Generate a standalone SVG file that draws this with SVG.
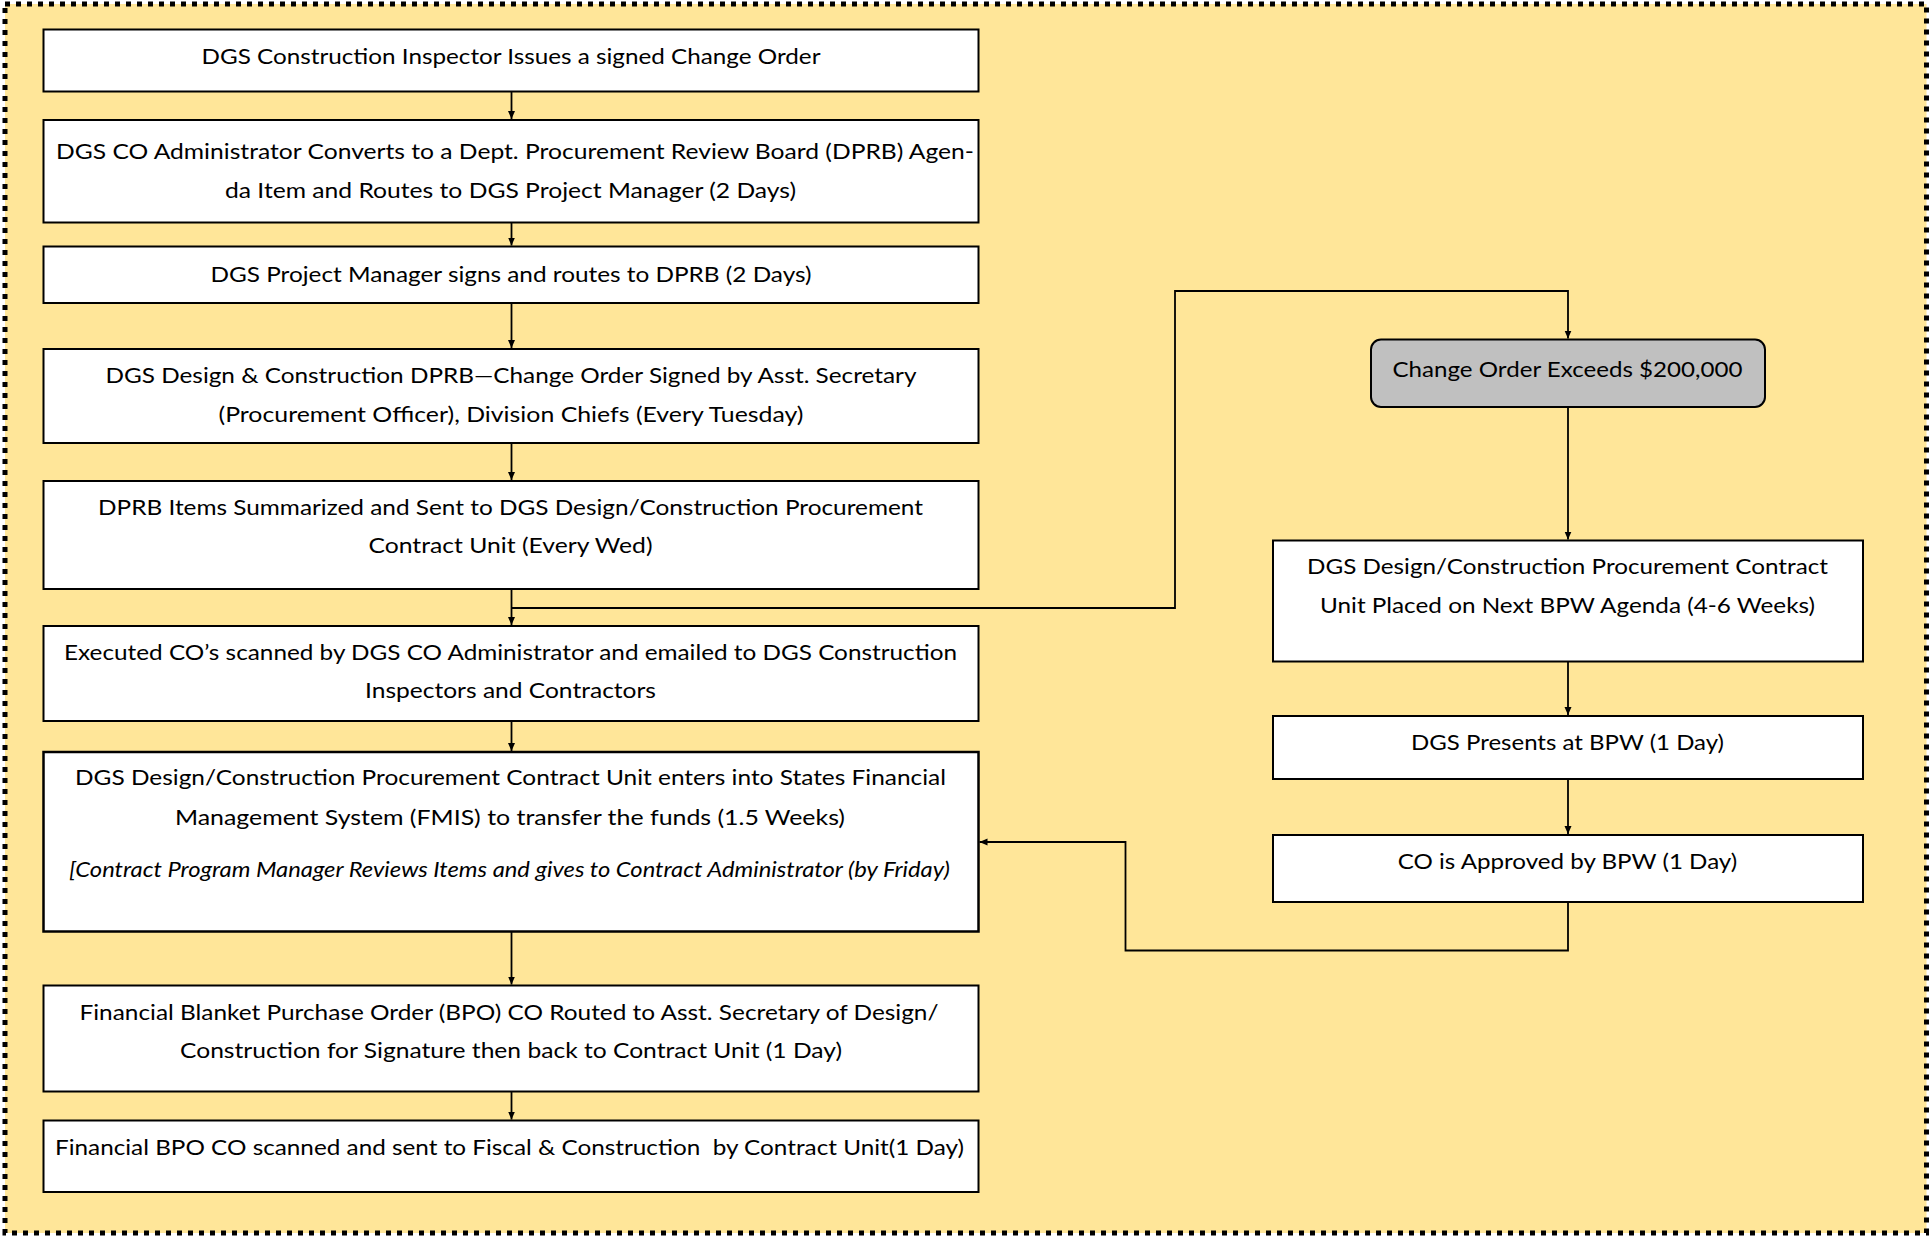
<svg xmlns="http://www.w3.org/2000/svg" width="1929" height="1236" viewBox="0 0 1929 1236">
<style>
.box{fill:#ffffff;stroke:#000;stroke-width:2}
.gray{fill:#c0c0c0;stroke:#000;stroke-width:2}
.t{font-family:Lato,"Liberation Sans",sans-serif;font-size:20.5px;fill:#000;text-anchor:middle}
.it{font-style:italic}
.c{fill:none;stroke:#000;stroke-width:1.8}
</style>
<defs>
<marker id="ah" markerUnits="userSpaceOnUse" markerWidth="8" markerHeight="10" viewBox="0 0 8 10" refX="8" refY="5" orient="auto">
<path d="M0,1.5 L8,5 L0,8.5 Z" fill="#000"/>
</marker>
</defs>
<rect x="0" y="0" width="1929" height="1236" fill="#ffffff"/>
<rect x="5" y="4" width="1921.5" height="1229" fill="#ffe699" stroke="#000" stroke-width="5" stroke-dasharray="5 6"/>

<g id="connectors">
<path class="c" d="M511.5 91.5 V119" marker-end="url(#ah)"/>
<path class="c" d="M511.5 222.5 V245.5" marker-end="url(#ah)"/>
<path class="c" d="M511.5 303 V348" marker-end="url(#ah)"/>
<path class="c" d="M511.5 443 V480" marker-end="url(#ah)"/>
<path class="c" d="M511.5 589 V625" marker-end="url(#ah)"/>
<path class="c" d="M511.5 608 H1175 V291 H1568 V338.5" marker-end="url(#ah)"/>
<path class="c" d="M511.5 721 V751" marker-end="url(#ah)"/>
<path class="c" d="M511.5 931.5 V984.5" marker-end="url(#ah)"/>
<path class="c" d="M511.5 1091.5 V1119.5" marker-end="url(#ah)"/>
<path class="c" d="M1568 407 V539.5" marker-end="url(#ah)"/>
<path class="c" d="M1568 661.5 V715" marker-end="url(#ah)"/>
<path class="c" d="M1568 779 V834" marker-end="url(#ah)"/>
<path class="c" d="M1568 902 V950.5 H1125.5 V842 H979.5" marker-end="url(#ah)"/>
</g>

<g id="n1">
<rect class="box" x="43.5" y="29.5" width="935" height="62"/>
<text class="t" x="511" y="64" textLength="619" lengthAdjust="spacingAndGlyphs">DGS Construction Inspector Issues a signed Change Order</text>
</g>
<g id="n2">
<rect class="box" x="43.5" y="120" width="935" height="102.5"/>
<text class="t" x="515" y="159" textLength="918" lengthAdjust="spacingAndGlyphs">DGS CO Administrator Converts to a Dept. Procurement Review Board (DPRB) Agen-</text>
<text class="t" x="510.5" y="198" textLength="571" lengthAdjust="spacingAndGlyphs">da Item and Routes to DGS Project Manager (2 Days)</text>
</g>
<g id="n3">
<rect class="box" x="43.5" y="246.5" width="935" height="56.5"/>
<text class="t" x="511" y="281.5" textLength="601" lengthAdjust="spacingAndGlyphs">DGS Project Manager signs and routes to DPRB (2 Days)</text>
</g>
<g id="n4">
<rect class="box" x="43.5" y="349" width="935" height="94"/>
<text class="t" x="511" y="383" textLength="811" lengthAdjust="spacingAndGlyphs">DGS Design &amp; Construction DPRB—Change Order Signed by Asst. Secretary</text>
<text class="t" x="511" y="421.5" textLength="585" lengthAdjust="spacingAndGlyphs">(Procurement Officer), Division Chiefs (Every Tuesday)</text>
</g>
<g id="n5">
<rect class="box" x="43.5" y="481" width="935" height="108"/>
<text class="t" x="510.5" y="515" textLength="825" lengthAdjust="spacingAndGlyphs">DPRB Items Summarized and Sent to DGS Design/Construction Procurement</text>
<text class="t" x="510.5" y="552.5" textLength="284" lengthAdjust="spacingAndGlyphs">Contract Unit (Every Wed)</text>
</g>
<g id="n6">
<rect class="box" x="43.5" y="626" width="935" height="95"/>
<text class="t" x="510.5" y="660" textLength="893" lengthAdjust="spacingAndGlyphs">Executed CO’s scanned by DGS CO Administrator and emailed to DGS Construction</text>
<text class="t" x="510.5" y="698" textLength="291" lengthAdjust="spacingAndGlyphs">Inspectors and Contractors</text>
</g>
<g id="n7">
<rect class="box" x="43.5" y="752" width="935" height="179.5" style="stroke-width:2.5"/>
<text class="t" x="510.5" y="785" textLength="871" lengthAdjust="spacingAndGlyphs">DGS Design/Construction Procurement Contract Unit enters into States Financial</text>
<text class="t" x="510" y="825" textLength="670" lengthAdjust="spacingAndGlyphs">Management System (FMIS) to transfer the funds (1.5 Weeks)</text>
<text class="t it" x="509.5" y="876.5" textLength="881" lengthAdjust="spacingAndGlyphs">[Contract Program Manager Reviews Items and gives to Contract Administrator (by Friday)</text>
</g>
<g id="n8">
<rect class="box" x="43.5" y="985.5" width="935" height="106"/>
<text class="t" x="509" y="1020" textLength="859" lengthAdjust="spacingAndGlyphs">Financial Blanket Purchase Order (BPO) CO Routed to Asst. Secretary of Design/</text>
<text class="t" x="511" y="1058" textLength="662" lengthAdjust="spacingAndGlyphs">Construction for Signature then back to Contract Unit (1 Day)</text>
</g>
<g id="n9">
<rect class="box" x="43.5" y="1120.5" width="935" height="71.5"/>
<text class="t" x="509.5" y="1155" textLength="909" lengthAdjust="spacingAndGlyphs" xml:space="preserve" style="white-space:pre">Financial BPO CO scanned and sent to Fiscal &amp; Construction  by Contract Unit(1 Day)</text>
</g>

<g id="r0">
<rect class="gray" x="1371" y="339.5" width="394" height="67.5" rx="10" ry="10"/>
<text class="t" x="1567.5" y="376.5" textLength="350" lengthAdjust="spacingAndGlyphs">Change Order Exceeds $200,000</text>
</g>
<g id="r1">
<rect class="box" x="1273" y="540.5" width="590" height="121"/>
<text class="t" x="1567.5" y="574" textLength="521" lengthAdjust="spacingAndGlyphs">DGS Design/Construction Procurement Contract</text>
<text class="t" x="1567.5" y="613" textLength="495" lengthAdjust="spacingAndGlyphs">Unit Placed on Next BPW Agenda (4-6 Weeks)</text>
</g>
<g id="r2">
<rect class="box" x="1273" y="716" width="590" height="63"/>
<text class="t" x="1567.5" y="750" textLength="313" lengthAdjust="spacingAndGlyphs">DGS Presents at BPW (1 Day)</text>
</g>
<g id="r3">
<rect class="box" x="1273" y="835" width="590" height="67"/>
<text class="t" x="1567.5" y="869" textLength="339.5" lengthAdjust="spacingAndGlyphs">CO is Approved by BPW (1 Day)</text>
</g>
</svg>
